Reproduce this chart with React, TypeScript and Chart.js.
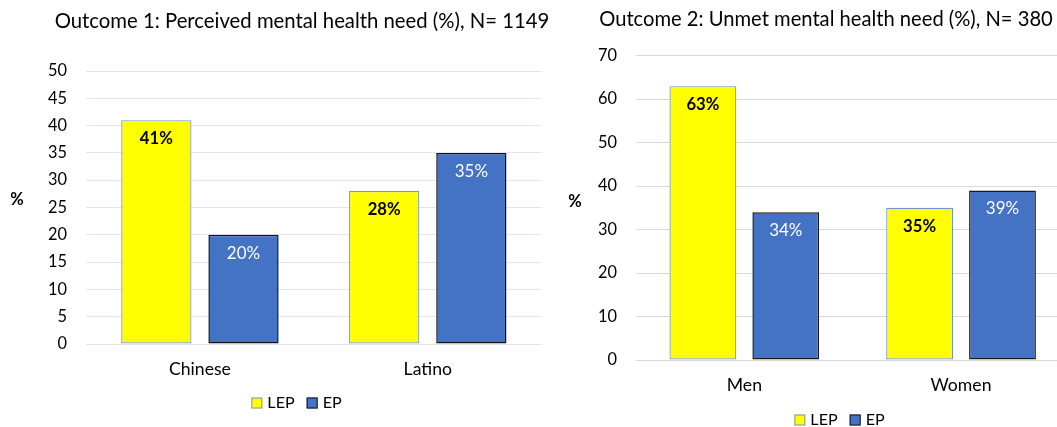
import React, { useEffect, useRef } from 'react';
import { Chart, registerables } from 'chart.js';

Chart.register(...registerables);

const FONT = 'Lato, "Open Sans", sans-serif';

// ---- data ----
const seriesLabels = ['LEP', 'EP'];
const yAxisLabel = '%';

const outcome1Title = 'Outcome 1: Perceived mental health need (%), N= 1149';
const outcome1Categories = ['Chinese', 'Latino'];
const outcome1LEP = [41, 28];
const outcome1EP = [20, 35];
const outcome1YTicks = [0, 5, 10, 15, 20, 25, 30, 35, 40, 45, 50];

const outcome2Title = 'Outcome 2: Unmet mental health need (%), N= 380';
const outcome2Categories = ['Men', 'Women'];
const outcome2LEP = [63, 35];
const outcome2EP = [34, 39];
const outcome2YTicks = [0, 10, 20, 30, 40, 50, 60, 70];

// ---- font sizing helper ----
function fitSize(text: string, width: number, weight = 'normal'): number {
  const c = document.createElement('canvas').getContext('2d')!;
  c.font = `${weight} 100px ${FONT}`;
  return (100 * width) / c.measureText(text).width;
}

type Spec = {
  title: string;
  categories: string[];
  lep: number[];
  ep: number[];
  yTicks: number[];
  W: number;
  H: number;
  area: { left: number; top: number; right: number; bottom: number };
  tickRight: number;
  titlePos: { x: number; y: number; w: number };
  pctPos: { x: number; y: number };
  legendPos: { x: number; y: number };
  gridColor: string;
  epBorder: string;
};

const LEP_FILL = '#FFFF00';
const LEP_BORDER = '#7193cf';
const EP_FILL = '#4472C4';

function ChartPanel({ spec, left }: { spec: Spec; left: number }) {
  const ref = useRef<HTMLCanvasElement>(null);
  useEffect(() => {
    const canvas = ref.current!;
    const tickSize = fitSize('50', 19);
    const catSize = fitSize('Chinese', 62);
    const legendSize = fitSize('LEP', 27.3);
    const boldLabelSize = fitSize('41%', 33, 'bold');
    const labelSize = fitSize('20%', 33.3);
    const pctSize = fitSize('%', 13.5, 'bold');
    const titleSize = fitSize(spec.title, spec.titlePos.w);
    const xH = 40;

    const overlay = {
      id: 'overlay',
      afterDatasetsDraw(chart: any) {
        const ctx = chart.ctx as CanvasRenderingContext2D;
        chart.data.datasets.forEach((ds: any, di: number) => {
          const meta = chart.getDatasetMeta(di);
          meta.data.forEach((el: any, i: number) => {
            ctx.save();
            ctx.font = di === 0 ? `bold ${boldLabelSize}px ${FONT}` : `${labelSize}px ${FONT}`;
            ctx.fillStyle = di === 0 ? '#000000' : '#ffffff';
            ctx.textAlign = 'center';
            ctx.textBaseline = 'middle';
            ctx.fillText(`${ds.data[i]}%`, el.x, el.y + 18.5);
            ctx.restore();
          });
        });
      },
      afterDraw(chart: any) {
        const ctx = chart.ctx as CanvasRenderingContext2D;
        ctx.save();
        // title
        ctx.font = `${titleSize}px ${FONT}`;
        ctx.fillStyle = '#000000';
        ctx.textAlign = 'center';
        ctx.textBaseline = 'middle';
        ctx.fillText(spec.title, spec.titlePos.x, spec.titlePos.y);
        // y axis label
        ctx.font = `bold ${pctSize}px ${FONT}`;
        ctx.fillText(yAxisLabel, spec.pctPos.x, spec.pctPos.y);
        // legend
        ctx.font = `${legendSize}px ${FONT}`;
        const box = 11;
        const gapText = 5;
        const gapItems = 12;
        const dss = chart.data.datasets;
        const widths = dss.map((d: any) => ctx.measureText(d.label).width);
        const total =
          widths.reduce((a: number, w: number) => a + box + gapText + w, 0) + gapItems * (dss.length - 1);
        let x = spec.legendPos.x - total / 2;
        const y = spec.legendPos.y;
        ctx.textAlign = 'left';
        dss.forEach((d: any, i: number) => {
          ctx.fillStyle = d.backgroundColor;
          ctx.fillRect(x, y - box / 2, box, box);
          ctx.strokeStyle = d.borderColor;
          ctx.lineWidth = 1;
          ctx.strokeRect(x + 0.5, y - box / 2 + 0.5, box - 1, box - 1);
          ctx.fillStyle = '#000000';
          ctx.fillText(d.label, x + box + gapText, y);
          x += box + gapText + widths[i] + gapItems;
        });
        ctx.restore();
      },
    };

    const yt = spec.yTicks;
    const chart = new Chart(canvas, {
      type: 'bar',
      data: {
        labels: spec.categories,
        datasets: [
          {
            label: seriesLabels[0],
            data: spec.lep,
            backgroundColor: LEP_FILL,
            borderColor: LEP_BORDER,
            borderWidth: 1.2,
            borderSkipped: false,
            categoryPercentage: 0.765,
            barPercentage: 0.806,
          },
          {
            label: seriesLabels[1],
            data: spec.ep,
            backgroundColor: EP_FILL,
            borderColor: spec.epBorder,
            borderWidth: 1.5,
            borderSkipped: false,
            categoryPercentage: 0.765,
            barPercentage: 0.806,
          },
        ],
      },
      options: {
        animation: false,
        responsive: false,
        devicePixelRatio: 1,
        layout: {
          padding: {
            left: 0,
            top: spec.area.top,
            right: spec.W - spec.area.right,
            bottom: spec.H - spec.area.bottom - xH,
          },
        },
        plugins: {
          legend: { display: false },
          title: { display: false },
          tooltip: { enabled: false },
        },
        scales: {
          x: {
            grid: { display: false },
            border: { display: false },
            ticks: {
              color: '#000000',
              font: { family: FONT, size: catSize },
              padding: 7,
            },
            afterFit: (s: any) => {
              s.height = xH;
            },
          },
          y: {
            min: yt[0],
            max: yt[yt.length - 1],
            grid: { color: spec.gridColor, lineWidth: 1, drawTicks: false },
            border: { display: false },
            ticks: {
              stepSize: yt[1] - yt[0],
              color: '#000000',
              font: { family: FONT, size: tickSize },
              padding: spec.area.left - spec.tickRight,
            },
            afterFit: (s: any) => {
              s.width = spec.area.left;
            },
          },
        },
      },
      plugins: [overlay],
    } as any);
    return () => chart.destroy();
  }, [spec]);
  return (
    <canvas
      ref={ref}
      width={spec.W}
      height={spec.H}
      style={{ position: 'absolute', left, top: 0, width: spec.W, height: spec.H }}
    />
  );
}

const spec1: Spec = {
  title: outcome1Title,
  categories: outcome1Categories,
  lep: outcome1LEP,
  ep: outcome1EP,
  yTicks: outcome1YTicks,
  W: 560,
  H: 427,
  area: { left: 86, top: 71, right: 541.7, bottom: 344 },
  tickRight: 67,
  titlePos: { x: 302, y: 21, w: 495 },
  pctPos: { x: 17, y: 200 },
  legendPos: { x: 296.5, y: 403 },
  gridColor: '#e3e6ec',
  epBorder: '#111111',
};

const spec2: Spec = {
  title: outcome2Title,
  categories: outcome2Categories,
  lep: outcome2LEP,
  ep: outcome2EP,
  yTicks: outcome2YTicks,
  W: 525,
  H: 427,
  area: { left: 76, top: 55.7, right: 509.4, bottom: 360 },
  tickRight: 57,
  titlePos: { x: 266, y: 19, w: 454 },
  pctPos: { x: 15, y: 202 },
  legendPos: { x: 279.5, y: 420 },
  gridColor: '#d9d9d9',
  epBorder: '#1a1a1a',
};

export default function App() {
  return (
    <div
      style={{
        position: 'absolute',
        left: 0,
        top: 0,
        width: 1057,
        height: 427,
        overflow: 'hidden',
        background: '#ffffff',
      }}
    >
      <ChartPanel spec={spec1} left={0} />
      <ChartPanel spec={spec2} left={560} />
    </div>
  );
}
